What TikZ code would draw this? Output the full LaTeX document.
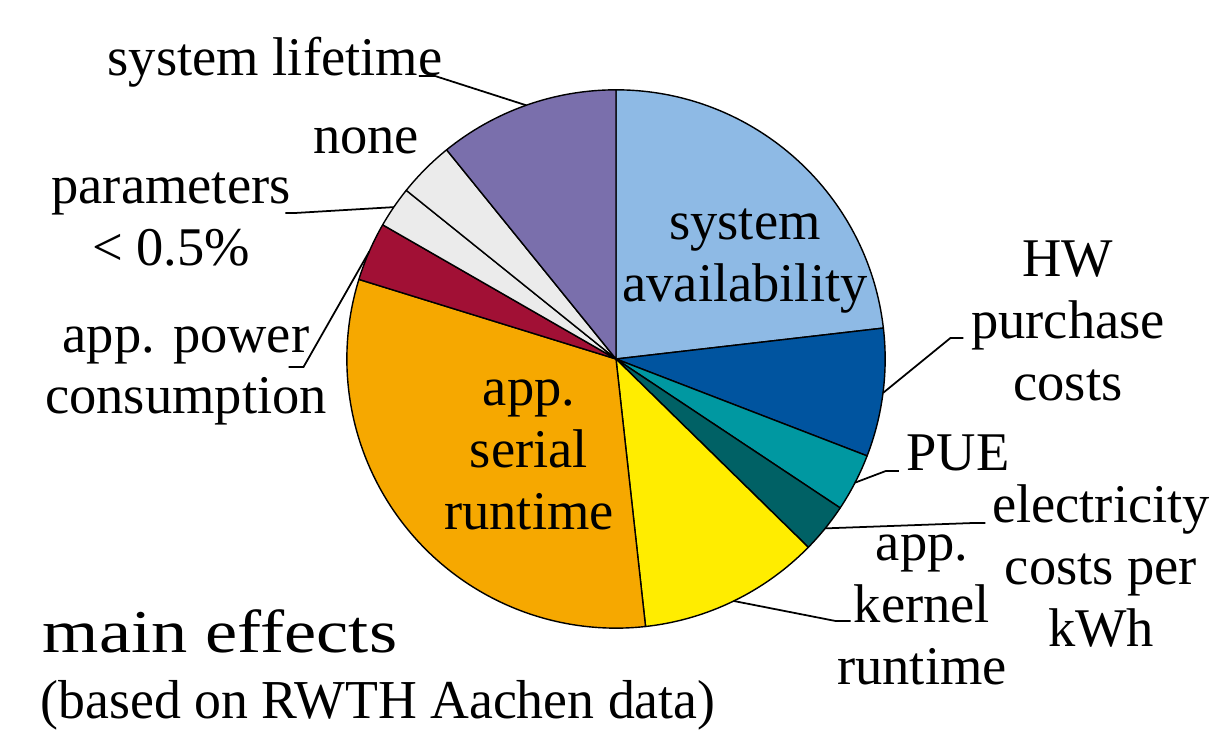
\documentclass[tikz,border=0pt]{standalone}
\usepackage{fontspec}
\setmainfont{Liberation Serif}
\usepackage{tikz}
\usetikzlibrary{calc}

\definecolor{availblue}{HTML}{8EBAE5}
\definecolor{hwblue}{HTML}{00549F}
\definecolor{puecyan}{HTML}{0098A1}
\definecolor{elecpetrol}{HTML}{006165}
\definecolor{kernelyellow}{HTML}{FFED00}
\definecolor{serialorange}{HTML}{F6A800}
\definecolor{powerred}{HTML}{A11035}
\definecolor{restgray}{HTML}{EBEBEB}
\definecolor{lifeviolet}{HTML}{7A6FAC}

\begin{document}
\begin{tikzpicture}[
  x=0.01cm, y=0.01cm,
  slice/.style={draw=black, line width=0.4pt, line join=round},
  leader/.style={draw=black, line width=0.5pt},
  lab/.style={font=\rmfamily\fontsize{15.5}{17.6}\selectfont, align=center, inner sep=0pt}
]
\useasboundingbox (0,0) rectangle (1225,734);

\begin{scope}[shift={(616,375)}]
\foreach \a/\b/\c in {90/6.6/availblue, 6.6/-21.1/hwblue, -21.1/-33.6/puecyan,
  -33.6/-44.4/elecpetrol, -44.4/-83.7/kernelyellow, -83.7/-197.2/serialorange,
  -197.2/-209.9/powerred, -209.9/-218.8/restgray, -218.8/-231/restgray,
  -231/-270/lifeviolet} {
  \filldraw[slice, fill=\c] (0,0) -- (\a:2.69cm) arc[start angle=\a, end angle=\b, radius=2.69cm] -- cycle;
}
\coordinate (rim-lifetime) at (109.5:2.69cm);
\coordinate (rim-params) at (145.65:2.69cm);
\coordinate (rim-power) at (156.45:2.69cm);
\coordinate (rim-hw) at (-7.25:2.69cm);
\coordinate (rim-pue) at (-27.35:2.69cm);
\coordinate (rim-elec) at (-39:2.69cm);
\coordinate (rim-kernel) at (-64.05:2.69cm);
\end{scope}

\node[lab, anchor=base] (lifetime) at (275,658) {system lifetime};
\node[lab, anchor=base] (nonelab) at (366,580) {none};
\node[lab] (params) at (171,514) {parameters\\< 0.5\%};
\node[lab] (power) at (186,358) {app. power\\consumption};
\node[lab] (avail) at (745,473) {system\\availability};
\node[lab] (hw) at (1068,413) {HW\\purchase\\costs};
\node[lab, anchor=base] (pue) at (958,263) {PUE};
\node[lab] (elec) at (1101,168) {electricity\\costs per\\kWh};
\node[lab] (kernel) at (922,124) {app.\\kernel\\runtime};
\node[lab] (serial) at (529,279) {app.\\serial\\runtime};

\node[inner sep=0pt, anchor=base west, font=\rmfamily\fontsize{17.3}{20}\selectfont] (title) at (42,81)
  {\scalebox{1.19}[1]{main effects}};
\node[inner sep=0pt, anchor=base west, font=\rmfamily\fontsize{15.6}{18}\selectfont] (subtitle) at (40,15)
  {\scalebox{0.98}[1]{(based on RWTH Aachen data)}};

\draw[leader] (lifetime.base east) ++(-24,0) -- ++(16,0) -- (rim-lifetime);
\draw[leader] (params.east) ++(-6,7) -- ++(10,0) -- (rim-params);
\draw[leader] (power.east) ++(-39,9) -- ++(15,0) -- (rim-power);
\draw[leader] (hw.west) ++(-7,-17) -- ++(-13,0) -- (rim-hw);
\draw[leader] (pue.base west) ++(-7,0) -- ++(-13,0) -- (rim-pue);
\draw[leader] (elec.west) ++(-6,43) -- ++(-12,0) -- (rim-elec);
\draw[leader] (kernel.west) ++(14,-11) -- ++(-15,0) -- (rim-kernel);
\end{tikzpicture}
\end{document}
